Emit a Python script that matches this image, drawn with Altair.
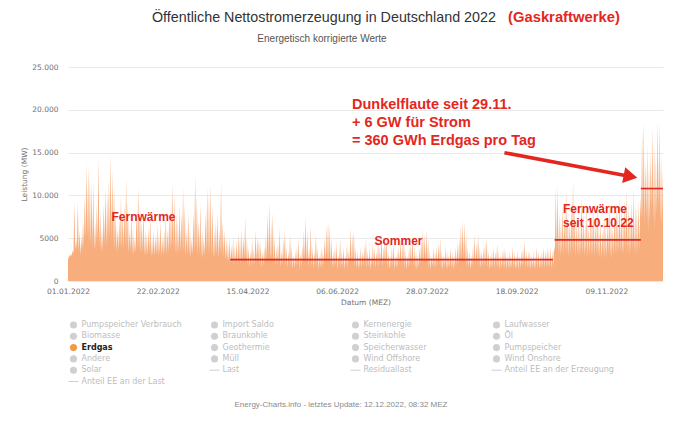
import altair as alt
import pandas as pd

# ---------------- data (GW) ----------------
hi_jan = [3.0, 3.2, 3.6, 9.2, 5.0, 9.3, 6.0, 5.2, 7.0, 10.0, 13.8, 13.5, 12.0, 11.5, 11.6, 7.0,
          9.0, 14.5, 8.0, 6.2, 9.0, 11.0, 10.2, 12.0, 15.0, 13.0, 11.0, 8.0, 6.0, 7.2, 10.0]
hi_feb = [8.0, 9.0, 12.0, 9.2, 6.0, 8.0, 6.2, 5.0, 8.2, 11.0, 9.0, 7.0, 8.5, 6.0, 5.5, 6.3,
          7.5, 5.0, 6.0, 5.2, 6.5, 5.5, 7.0, 5.0, 6.0, 7.5, 6.0, 8.0]
hi_mar = [9.0, 11.5, 10.0, 8.0, 7.0, 9.0, 8.0, 11.0, 9.0, 6.0, 8.0, 6.0, 5.0, 8.0, 12.5, 10.0,
          7.0, 9.0, 6.0, 5.0, 8.0, 11.0, 10.0, 11.3, 9.0, 6.0, 7.0, 8.0, 6.0, 11.5, 7.0]
hi_apr = [6.0, 5.0, 4.5, 5.0, 4.2, 5.0, 4.0, 4.8, 5.6, 5.1, 6.0, 5.2, 7.5, 5.0, 4.0, 3.5,
          5.0, 3.8, 6.0, 5.2, 5.0, 4.5, 3.5, 4.0, 5.5, 8.0, 9.2, 7.0, 8.0, 5.0]
hi_may = [4.0, 4.5, 6.2, 3.5, 5.0, 6.0, 4.0, 3.5, 5.5, 4.0, 3.0, 3.5, 4.0, 5.0, 3.2, 4.2,
          6.0, 7.5, 6.0, 4.0, 6.5, 4.0, 3.5, 5.6, 4.0, 3.0, 4.0, 3.5, 5.0, 6.5, 7.0]
hi_jun = [6.5, 5.0, 3.5, 4.0, 4.5, 3.0, 5.0, 3.5, 4.0, 3.0, 4.5, 3.5, 6.2, 5.5, 6.0, 4.0,
          3.5, 3.0, 4.0, 3.5, 4.2, 5.0, 3.5, 4.0, 3.0, 4.5, 4.0, 3.5, 4.6, 4.0]
hi_jul = [5.5, 4.0, 5.2, 5.0, 3.5, 3.0, 4.0, 4.5, 3.0, 3.5, 4.0, 5.0, 4.5, 5.0, 3.5, 3.0,
          4.0, 4.5, 5.5, 4.0, 3.5, 3.0, 4.0, 5.0, 6.2, 5.5, 6.0, 5.0, 3.5, 3.0, 4.0]
hi_aug = [3.5, 4.0, 4.5, 5.0, 3.5, 3.0, 4.0, 3.5, 3.0, 4.0, 3.5, 3.0, 4.0, 4.5, 5.0, 6.5,
          7.1, 7.0, 5.5, 4.0, 3.5, 3.0, 4.0, 5.5, 4.5, 5.5, 4.0, 3.5, 4.0, 4.5, 5.0]
hi_sep = [3.5, 3.0, 3.5, 4.0, 3.5, 4.4, 3.5, 3.0, 3.5, 4.0, 3.5, 3.0, 3.5, 3.0, 4.0, 3.5,
          3.0, 3.5, 3.0, 3.5, 4.0, 4.8, 3.5, 3.5, 3.5, 3.0, 3.5, 3.0, 4.0, 3.5]
hi_oct = [3.0, 3.5, 4.0, 3.5, 4.0, 3.5, 4.0, 3.5, 4.0, 11.0, 11.2, 8.0, 7.0, 9.0, 8.0, 10.5,
          8.0, 7.0, 9.0, 11.8, 9.0, 7.0, 8.0, 6.5, 9.9, 8.0, 7.0, 9.0, 6.5, 7.5, 8.0]
hi_nov = [8.5, 7.0, 9.0, 6.5, 7.0, 6.0, 7.8, 6.5, 7.0, 9.0, 7.0, 6.5, 8.0, 9.0, 8.0, 10.0,
          9.0, 8.0, 9.5, 10.8, 9.0, 8.0, 9.5, 10.8, 9.0, 8.5, 9.5, 10.0, 17.5, 18.8]
hi_dec = [14.0, 16.0, 13.5, 15.0, 18.0, 16.0, 14.5, 18.9, 18.5, 15.0, 13.0]

lo_jan = [2.6, 2.8, 2.9, 3.2, 3.5, 3.8, 3.4, 3.0, 3.6, 4.0, 4.8, 5.0, 4.5, 4.2, 4.0, 3.6,
          3.8, 4.5, 4.0, 3.4, 3.6, 4.2, 4.0, 4.4, 5.0, 4.6, 4.2, 3.8, 3.4, 3.6, 4.0]
lo_feb = [3.8, 3.6, 4.2, 3.8, 3.2, 3.5, 3.2, 3.0, 3.4, 3.8, 3.6, 3.2, 3.4, 3.0, 2.9, 3.0,
          3.2, 2.8, 3.0, 2.9, 3.1, 2.9, 3.2, 2.8, 3.0, 3.2, 3.0, 3.3]
lo_mar = [3.5, 3.8, 3.6, 3.2, 3.0, 3.4, 3.2, 3.6, 3.4, 2.8, 3.1, 2.9, 2.7, 3.0, 3.6, 3.4,
          3.0, 3.2, 2.8, 2.6, 3.0, 3.4, 3.2, 3.4, 3.0, 2.6, 2.8, 3.0, 2.6, 3.2, 3.0]
lo_apr = [2.8, 2.5, 2.3, 2.2, 2.0, 2.2, 1.9, 2.1, 1.8, 2.2, 1.9, 2.2, 2.6, 2.1, 1.8, 1.6,
          2.0, 1.7, 1.9, 2.2, 2.3, 1.9, 1.6, 1.8, 2.1, 2.5, 2.8, 2.4, 2.6, 2.0]
lo_may = [1.8, 1.9, 2.2, 1.6, 1.9, 2.1, 1.7, 1.5, 2.0, 1.7, 1.4, 1.5, 1.7, 1.9, 1.4, 1.7,
          2.1, 2.4, 2.1, 1.7, 2.2, 1.7, 1.5, 2.0, 1.7, 1.3, 1.6, 1.5, 1.9, 2.2, 2.3]
lo_jun = [2.2, 1.9, 1.5, 1.6, 1.8, 1.3, 1.9, 1.5, 1.6, 1.3, 1.8, 1.5, 2.1, 2.0, 2.1, 1.6,
          1.5, 1.3, 1.6, 1.5, 1.7, 1.9, 1.5, 1.6, 1.3, 1.8, 1.6, 1.5, 1.8, 1.6]
lo_jul = [2.0, 1.6, 1.9, 1.9, 1.5, 1.3, 1.6, 1.7, 1.3, 1.5, 1.6, 1.9, 1.7, 1.9, 1.5, 1.3,
          1.6, 1.7, 2.0, 1.6, 1.5, 1.3, 1.6, 1.9, 2.2, 2.0, 2.1, 1.9, 1.5, 1.3, 1.6]
lo_aug = [1.5, 1.6, 1.7, 1.9, 1.5, 1.3, 1.6, 1.5, 1.3, 1.6, 1.5, 1.3, 1.6, 1.7, 1.9, 2.3,
          2.5, 2.4, 2.0, 1.6, 1.5, 1.3, 1.6, 2.0, 1.7, 2.0, 1.6, 1.5, 1.6, 1.7, 1.9]
lo_sep = [1.5, 1.3, 1.5, 1.6, 1.5, 1.7, 1.5, 1.3, 1.5, 1.6, 1.5, 1.3, 1.5, 1.3, 1.6, 1.5,
          1.3, 1.5, 1.3, 1.5, 1.6, 1.8, 1.5, 1.5, 1.5, 1.3, 1.5, 1.3, 1.6, 1.5]
lo_oct = [1.4, 1.5, 1.6, 1.5, 1.6, 1.5, 1.6, 1.5, 1.7, 3.4, 3.5, 3.0, 2.8, 3.2, 3.0, 3.4,
          3.0, 2.8, 3.1, 3.5, 3.2, 2.8, 3.0, 2.7, 3.3, 3.0, 2.8, 3.2, 2.7, 2.9, 3.0]
lo_nov = [3.1, 2.8, 3.2, 2.7, 2.8, 2.6, 3.0, 2.7, 2.8, 3.2, 2.8, 2.7, 3.0, 3.2, 3.0, 3.4,
          3.2, 3.0, 3.3, 3.6, 3.2, 3.0, 3.4, 3.6, 3.2, 3.1, 3.4, 3.5, 7.0, 7.5]
lo_dec = [6.5, 7.5, 5.5, 7.0, 8.5, 7.0, 6.0, 8.0, 8.5, 7.0, 6.5]

hi = hi_jan + hi_feb + hi_mar + hi_apr + hi_may + hi_jun + hi_jul + hi_aug + hi_sep + hi_oct + hi_nov + hi_dec
lo = lo_jan + lo_feb + lo_mar + lo_apr + lo_may + lo_jun + lo_jul + lo_aug + lo_sep + lo_oct + lo_nov + lo_dec

tick_dates = ["2022-01-01", "2022-02-22", "2022-04-15", "2022-06-06",
              "2022-07-28", "2022-09-18", "2022-11-09"]
y_ticks = [0, 5000, 10000, 15000, 20000, 25000]

# annotation levels (MW)
line_starts = ["2022-04-05", "2022-10-10", "2022-11-29"]
line_ends = ["2022-10-09", "2022-11-29", "2022-12-12"]
line_levels = [2500, 4800, 10800]
arrow_from = ("2022-09-10T22:00:00", 14990)
arrow_to = ("2022-11-23T00:00:00", 12210)

legend_cols = [
    ["Pumpspeicher Verbrauch", "Biomasse", "Erdgas", "Andere", "Solar", "Anteil EE an der Last"],
    ["Import Saldo", "Braunkohle", "Geothermie", "Müll", "Last"],
    ["Kernenergie", "Steinkohle", "Speicherwasser", "Wind Offshore", "Residuallast"],
    ["Laufwasser", "Öl", "Pumpspeicher", "Wind Onshore", "Anteil EE an der Erzeugung"],
]
legend_lines = ["Anteil EE an der Last", "Last", "Residuallast", "Anteil EE an der Erzeugung"]
legend_active = ["Erdgas"]

# ---------------- build tables ----------------
days = pd.date_range("2022-01-01", periods=len(hi), freq="D")
ts, mw = [pd.Timestamp("2022-01-01T00:00:00")], [lo[0] * 1000]
for d, l, h in zip(days, lo, hi):
    ts += [d + pd.Timedelta(hours=4), d + pd.Timedelta(hours=17)]
    mw += [l * 1000, h * 1000]
ts.append(pd.Timestamp("2022-12-12T00:00:00"))
mw.append(lo[-1] * 1000)
df = pd.DataFrame({"t": [t.strftime("%Y-%m-%dT%H:%M:%S") for t in ts], "mw": mw})

lines_df = pd.DataFrame({"s": line_starts, "e": line_ends, "v": line_levels})
shaft_df = pd.DataFrame({"s": [arrow_from[0]], "e": [arrow_to[0]], "v": [arrow_from[1]], "v2": [arrow_to[1]]})
head_df = pd.DataFrame({"s": [arrow_to[0]], "v": [arrow_to[1]]})

leg_rows = []
for c, names in enumerate(legend_cols):
    for r, n in enumerate(names):
        leg_rows.append({"name": n, "px": 5.5 + 141 * c, "py": 258 + 11.3 * r,
                         "line": n in legend_lines, "active": n in legend_active})
leg = pd.DataFrame(leg_rows)
leg["tx"] = leg["px"] + 8
leg["x1"] = leg["px"] - 5
leg["x2"] = leg["px"] + 5

RED = "#E3271E"
FILL = "#F7AD7C"
ORANGE = "#F29A4A"
AXIS_GRAY = "#707070"

def dt(s):
    p = pd.Timestamp(s)
    return alt.DateTime(year=p.year, month=p.month, date=p.day, hours=p.hour)

xscale = alt.Scale(domain=[dt("2022-01-01"), dt("2022-12-11T20:00:00")], nice=False)
yscale = alt.Scale(domain=[0, 25000], nice=False)

area = alt.Chart(df).mark_area(color=FILL, opacity=1, clip=True, interpolate="linear").encode(
    x=alt.X("t:T", scale=xscale, title="Datum (MEZ)",
            axis=alt.Axis(values=[dt(s) for s in tick_dates], format="%d.%m.%Y", grid=False,
                          domain=False, ticks=False, tickSize=0, labelFlush=False, labelOverlap=False,
                          labelFont="DejaVu Sans", labelFontSize=7.5, labelColor=AXIS_GRAY,
                          labelPadding=6, titleFont="DejaVu Sans", titleFontSize=7.5,
                          titleFontWeight="normal", titleColor=AXIS_GRAY, titlePadding=4)),
    y=alt.Y("mw:Q", scale=yscale, title="Leistung (MW)",
            axis=alt.Axis(values=y_ticks, grid=True, gridColor="#e9e9e9", domain=False, ticks=False,
                          tickSize=0,
                          labelExpr="datum.value >= 10000 ? replace(format(datum.value, ','), ',', '.') : format(datum.value, 'd')",
                          labelFont="DejaVu Sans", labelFontSize=7.5, labelColor=AXIS_GRAY,
                          labelPadding=10, titleFont="DejaVu Sans", titleFontSize=7.5,
                          titleFontWeight="normal", titleColor=AXIS_GRAY, titlePadding=3)),
)

red_lines = alt.Chart(lines_df).mark_rule(color=RED, strokeWidth=1.6, clip=True).encode(
    x="s:T", x2="e:T", y="v:Q")
shaft = alt.Chart(shaft_df).mark_rule(color=RED, strokeWidth=3.5).encode(
    x="s:T", x2="e:T", y="v:Q", y2="v2:Q")
head = alt.Chart(head_df).mark_point(shape="triangle-right", filled=True, size=256, angle=11,
                                     color=RED, opacity=1).encode(x="s:T", y="v:Q")

def label(txt, x, y, size, color, weight="normal", align="left", font="Liberation Sans"):
    return alt.Chart(pd.DataFrame({"t": [txt]})).mark_text(
        align=align, baseline="middle", fontSize=size, font=font, fontWeight=weight, color=color
    ).encode(x=alt.value(x), y=alt.value(y), text="t:N")

texts = [
    label("Öffentliche Nettostromerzeugung in Deutschland 2022", 84, -49, 14.3, "#333333"),
    label("(Gaskraftwerke)", 440, -49, 14.8, RED, "bold"),
    label("Energetisch korrigierte Werte", 254, -28, 10, "#555555", align="center"),
    label("Fernwärme", 75.5, 150, 12, RED, "bold", "center"),
    label("Sommer", 330.5, 174, 12, RED, "bold", "center"),
    label("Fernwärme", 495, 142, 12, RED, "bold"),
    label("seit 10.10.22", 495, 156, 12, RED, "bold"),
    label("Dunkelflaute seit 29.11.", 284, 38, 14.5, RED, "bold"),
    label("+ 6 GW für Strom", 284, 56, 14.5, RED, "bold"),
    label("= 360 GWh Erdgas pro Tag", 284, 74, 14.5, RED, "bold"),
    label("Energy-Charts.info - letztes Update: 12.12.2022, 08:32 MEZ", 273, 338, 8, "#8a8a8a",
          align="center"),
]

leg_dots = alt.Chart(leg).transform_filter("!datum.line").mark_circle(size=50, opacity=1).encode(
    x=alt.X("px:Q", scale=None), y=alt.Y("py:Q", scale=None),
    color=alt.condition("datum.active", alt.value(ORANGE), alt.value("#d0d0d0")))
leg_rules = alt.Chart(leg).transform_filter("datum.line").mark_rule(color="#cfcfcf", strokeWidth=1).encode(
    x=alt.X("x1:Q", scale=None), x2="x2:Q", y=alt.Y("py:Q", scale=None))
leg_text = alt.Chart(leg).transform_filter("!datum.active").mark_text(
    align="left", baseline="middle", font="DejaVu Sans", fontSize=8, color="#bdbdbd").encode(
    x=alt.X("tx:Q", scale=None), y=alt.Y("py:Q", scale=None), text="name:N")
leg_text_on = alt.Chart(leg).transform_filter("datum.active").mark_text(
    align="left", baseline="middle", font="DejaVu Sans", fontSize=8, fontWeight="bold",
    color="#222222").encode(
    x=alt.X("tx:Q", scale=None), y=alt.Y("py:Q", scale=None), text="name:N")

chart = alt.layer(area, red_lines, shaft, head, leg_dots, leg_rules, leg_text, leg_text_on, *texts).properties(
    width=595, height=214,
    autosize=alt.AutoSizeParams(type="none"),
    padding={"left": 60, "top": 59, "right": 9, "bottom": 130},
    background="white",
).configure_view(stroke=None)

chart.save("out.html", embed_options={"renderer": "svg", "actions": False})
